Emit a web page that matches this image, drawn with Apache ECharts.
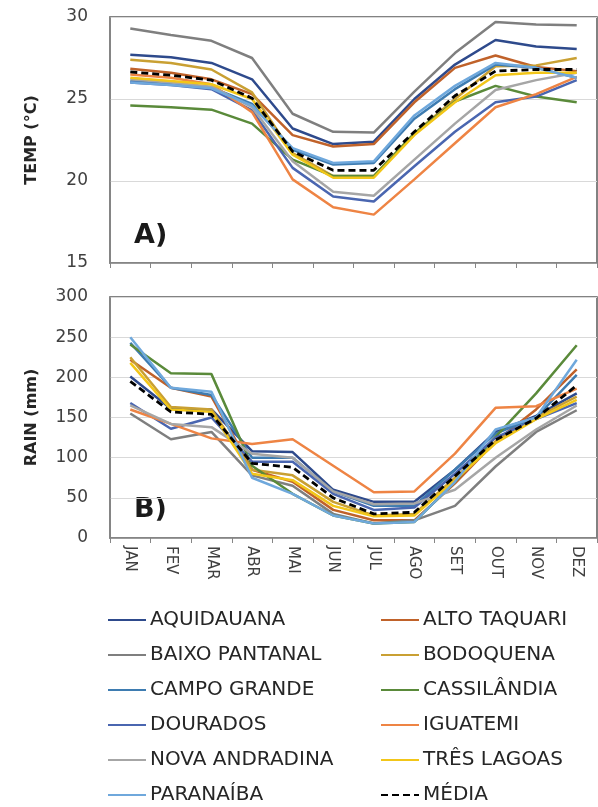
<!DOCTYPE html>
<html><head><meta charset="utf-8">
<script src="https://cdn.jsdelivr.net/npm/echarts@6/dist/echarts.min.js"></script>
<style>html,body{margin:0;padding:0;background:#fff}#c{width:598px;height:807px}</style>
</head><body><div id="c"></div>
<script>
const months = ['JAN','FEV','MAR','ABR','MAI','JUN','JUL','AGO','SET','OUT','NOV','DEZ'];
const names = ['AQUIDAUANA','ALTO TAQUARI','BAIXO PANTANAL','BODOQUENA','CAMPO GRANDE','CASSILÂNDIA','DOURADOS','IGUATEMI','NOVA ANDRADINA','TRÊS LAGOAS','PARANAÍBA','MÉDIA'];
const colors = ['#2E4A8C','#C0622A','#7F7F7F','#C9A033','#3E7CB1','#5A8A3A','#4A66B0','#EE8444','#A6A6A6','#F2C619','#6FA8DC','#000000'];
const tempTicks = [15,20,25,30];
const rainTicks = [0,50,100,150,200,250,300];

// Temperature (°C)
const tAquidauana    = [27.7,27.55,27.2,26.2,23.2,22.25,22.4,25.0,27.1,28.6,28.2,28.05];
const tAltoTaquari   = [26.85,26.6,26.2,25.3,22.8,22.1,22.25,24.8,26.9,27.65,26.95,26.7];
const tBaixoPantanal = [29.3,28.9,28.55,27.5,24.1,23.0,22.95,25.45,27.8,29.7,29.55,29.5];
const tBodoquena     = [27.4,27.2,26.8,25.4,21.7,20.3,20.3,22.9,25.0,27.0,27.05,27.5];
const tCampoGrande   = [26.1,25.95,25.7,24.7,21.9,21.0,21.1,23.8,25.6,27.1,26.9,26.3];
const tCassilandia   = [24.6,24.5,24.35,23.5,21.3,20.3,20.3,22.9,24.85,25.8,25.15,24.8];
const tDourados      = [26.0,25.85,25.6,24.3,20.8,19.05,18.75,20.9,23.0,24.8,25.15,26.15];
const tIguatemi      = [26.5,26.3,25.9,24.2,20.1,18.4,17.95,20.1,22.3,24.5,25.3,26.35];
const tNovaAndradina = [26.2,26.0,25.75,24.5,21.2,19.35,19.1,21.3,23.5,25.55,26.15,26.6];
const tTresLagoas    = [26.3,26.1,25.9,25.0,21.6,20.2,20.2,22.8,24.8,26.45,26.6,26.6];
const tParanaiba     = [26.0,25.85,25.65,24.6,22.0,21.1,21.2,24.0,25.8,27.2,26.9,26.3];
const tMedia         = [26.65,26.45,26.15,25.05,21.8,20.65,20.65,23.0,25.2,26.7,26.8,26.8];

// Rain (mm)
const rAquidauana    = [201,161,160,108,107,60,45,45,85,132,152,180];
const rAltoTaquari   = [222,187,176,85,70,35,22,22,68,120,160,210];
const rBaixoPantanal = [155,123,132,78,65,30,18,22,40,89,132,159];
const rBodoquena     = [225,163,160,85,78,45,28,30,75,120,150,176];
const rCampoGrande   = [243,187,178,100,100,58,40,40,85,130,150,203];
const rCassilandia   = [241,205,204,90,55,28,18,20,70,126,180,240];
const rDourados      = [168,136,150,95,95,55,35,38,80,125,148,168];
const rIguatemi      = [160,142,124,117,123,90,57,58,105,162,164,186];
const rNovaAndradina = [165,142,138,105,100,58,42,43,60,100,135,165];
const rTresLagoas    = [218,160,157,80,72,40,27,28,72,118,148,172];
const rParanaiba     = [250,187,182,75,55,28,18,20,70,135,150,222];
const rMedia         = [195,157,154,93,88,50,30,32,77,122,149,190];

const tempData = [tAquidauana,tAltoTaquari,tBaixoPantanal,tBodoquena,tCampoGrande,tCassilandia,tDourados,tIguatemi,tNovaAndradina,tTresLagoas,tParanaiba,tMedia];
const rainData = [rAquidauana,rAltoTaquari,rBaixoPantanal,rBodoquena,rCampoGrande,rCassilandia,rDourados,rIguatemi,rNovaAndradina,rTresLagoas,rParanaiba,rMedia];

const FONT = 'DejaVu Sans';
const series = [];
[tempData, rainData].forEach((set, gi) => {
  set.forEach((d, i) => {
    const isMean = i === 11;
    series.push({
      name: names[i], type: 'line', xAxisIndex: gi, yAxisIndex: gi,
      data: d, symbol: 'none', showSymbol: false, z: isMean ? 10 : 2,
      lineStyle: {color: colors[i], width: isMean ? 2.8 : 2.5, type: isMean ? [7,4] : 'solid'},
      itemStyle: {color: colors[i]}
    });
  });
});

function yAxis(gi, ticks, name) {
  return {
    type: 'value', gridIndex: gi, min: ticks[0], max: ticks[ticks.length-1], interval: ticks[1]-ticks[0],
    name: name, nameLocation: 'middle', nameGap: 70,
    nameTextStyle: {fontFamily: FONT, fontWeight: 'bold', fontSize: 16, color: '#262626'},
    axisLine: {show: true, lineStyle: {color: '#868686', width: 1.5}},
    axisTick: {show: false},
    axisLabel: {fontFamily: FONT, fontSize: 17, color: '#404040', margin: 22},
    splitLine: {show: true, lineStyle: {color: '#D9D9D9', width: 1}}
  };
}
function xAxis(gi, showLabels) {
  return {
    type: 'category', gridIndex: gi, data: months, boundaryGap: true,
    axisLine: {show: true, lineStyle: {color: '#868686', width: 1.5}},
    axisTick: {show: true, interval: 0, length: 5, lineStyle: {color: '#868686'}},
    axisLabel: {show: showLabels, interval: 0, rotate: -90, fontFamily: FONT, fontSize: 15, color: '#404040', margin: 8}
  };
}

const legendCommon = {
  orient: 'vertical', itemWidth: 38, itemHeight: 20, itemGap: 15, height: 240, padding: 0,
  itemStyle: {opacity: 0},
  textStyle: {fontFamily: FONT, fontSize: 20, color: '#262626', padding: [0,0,0,-1]},
  selectedMode: false
};

const chart = echarts.init(document.getElementById('c'), null, {renderer: 'canvas'});
chart.setOption({
  animation: false,
  backgroundColor: '#fff',
  grid: [
    {left: 110, top: 17, right: 1, height: 246, show: true, borderColor: '#595959', borderWidth: 1.5, containLabel: false},
    {left: 110, top: 297, right: 1, height: 241, show: true, borderColor: '#595959', borderWidth: 1.5, containLabel: false}
  ],
  xAxis: [xAxis(0, false), xAxis(1, true)],
  yAxis: [yAxis(0, tempTicks, 'TEMP (°C)'), yAxis(1, rainTicks, 'RAIN (mm)')],
  legend: [
    Object.assign({left: 107, top: 610, data: names.filter((n, i) => i % 2 === 0)}, legendCommon),
    Object.assign({left: 380, top: 610, data: names.filter((n, i) => i % 2 === 1)}, legendCommon)
  ],
  graphic: [
    {type: 'text', left: 134, top: 222, style: {text: 'A)', font: 'bold 27px "DejaVu Sans"', fill: '#1a1a1a'}},
    {type: 'text', left: 134, top: 496, style: {text: 'B)', font: 'bold 27px "DejaVu Sans"', fill: '#1a1a1a'}}
  ],
  series: series
});
</script></body></html>
